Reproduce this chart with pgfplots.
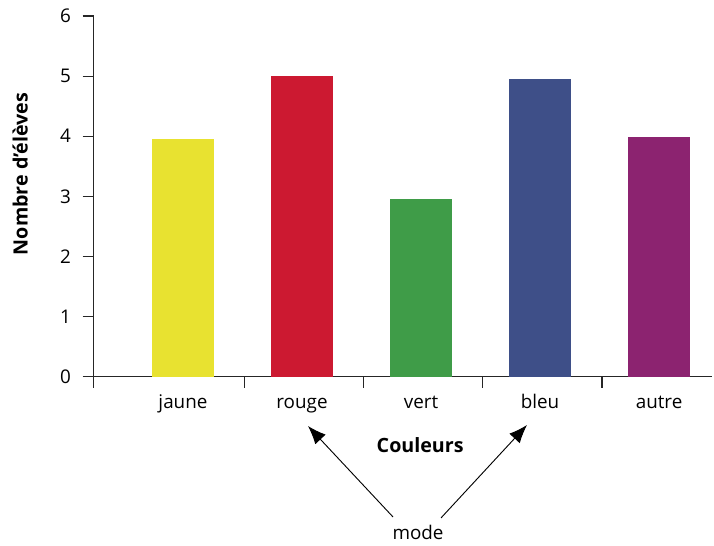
\documentclass[border=0pt]{standalone}
\usepackage{fontspec}
\setmainfont{Open Sans}
\usepackage{pgfplots}
\pgfplotsset{compat=1.18}
\usetikzlibrary{arrows.meta}

\definecolor{cjaune}{HTML}{E8E230}
\definecolor{crouge}{HTML}{CC1931}
\definecolor{cvert}{HTML}{3F9C48}
\definecolor{cbleu}{HTML}{3E4F88}
\definecolor{cautre}{HTML}{8C2370}

\begin{document}
\begin{tikzpicture}
\begin{axis}[
  scale only axis,
  width=371pt, height=216.4pt,
  xmin=-0.75, xmax=4.445,
  ymin=0, ymax=6,
  axis lines*=left,
  axis line style={black!85, line width=0.7pt},
  tick style={black!85, line width=0.7pt},
  tick align=outside,
  major tick length=6.6pt,
  ytick={0,1,2,3,4,5,6},
  xtick={-0.75,0.52,1.52,2.52,3.52},
  xticklabels={},
  extra x ticks={0,1,2,3,4},
  extra x tick labels={jaune,rouge,vert,bleu,autre},
  extra x tick style={major tick length=0pt,
    xticklabel style={yshift=-7pt, text height=8.5pt, text depth=2.5pt}},
  /pgf/number format/assume math mode=true,
  tick label style={font=\fontsize{11.3}{13}\selectfont, text=black},
  yticklabel style={xshift=-3.5pt},
  xlabel={Couleurs},
  xlabel style={at={(rel axis cs:0.528,-0.189)}, anchor=center,
    font=\fontsize{11.8}{13}\selectfont\bfseries},
  ylabel={Nombre d'élèves},
  ylabel style={at={(rel axis cs:-0.119,0.562)}, anchor=center,
    font=\fontsize{11.8}{13}\selectfont\bfseries},
  clip=false,
]
\addplot[ybar, bar width=0.518, fill=cjaune, draw=none] coordinates {(0,3.96)};
\addplot[ybar, bar width=0.518, fill=crouge, draw=none] coordinates {(1,5.0)};
\addplot[ybar, bar width=0.518, fill=cvert, draw=none] coordinates {(2,2.95)};
\addplot[ybar, bar width=0.518, fill=cbleu, draw=none] coordinates {(3,4.96)};
\addplot[ybar, bar width=0.518, fill=cautre, draw=none] coordinates {(4,3.98)};

% annotation "mode"
\draw[-{Latex[length=11pt,width=8.5pt]}, line width=0.55pt] (axis cs:1.765,-2.334) -- (axis cs:1.050,-0.820);
\draw[-{Latex[length=11pt,width=8.5pt]}, line width=0.55pt] (axis cs:2.168,-2.350) -- (axis cs:2.891,-0.803);
\node[font=\fontsize{11.3}{13}\selectfont] at (axis cs:1.975,-2.59) {mode};

% page frame
\path (rel axis cs:-0.1515,1.0444) rectangle (rel axis cs:1.0032,-0.4638);
\end{axis}
\end{tikzpicture}
\end{document}
